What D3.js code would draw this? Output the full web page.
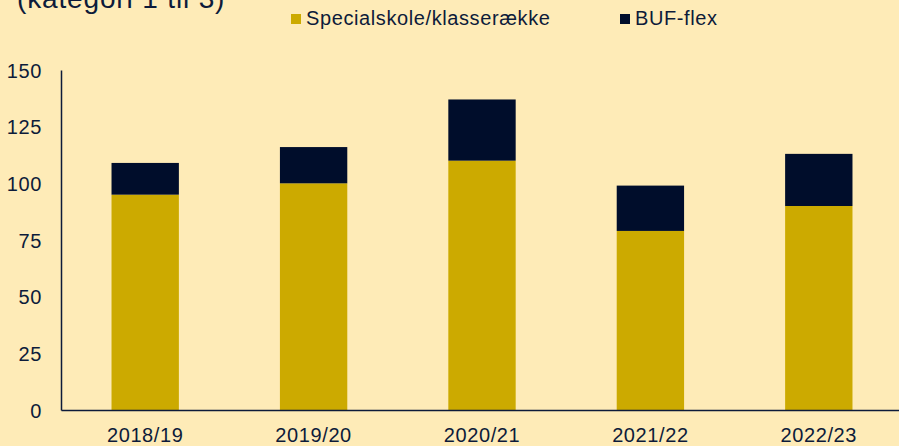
<!DOCTYPE html>
<html>
<head>
<meta charset="utf-8">
<script src="https://d3js.org/d3.v7.min.js"></script>
<style>
  body { margin: 0; background: #feebb7; }
  svg { display: block; font-family: "Liberation Sans", Arial, sans-serif; }
  .axis text { fill: #0d1b3a; font-size: 20px; letter-spacing: 0.6px; }
  .axis path { stroke: #0d1b3a; stroke-width: 1.5; }
</style>
</head>
<body>
<div id="chart"></div>
<script>
  var years = ["2018/19", "2019/20", "2020/21", "2021/22", "2022/23"];
  var special = [95, 100, 110, 79, 90];
  var bufFlex = [14, 16, 27, 20, 23];
  var seriesNames = ["Specialskole/klasserække", "BUF-flex"];
  var yTicks = [0, 25, 50, 75, 100, 125, 150];

  var width = 899, height = 446,
    margin = { top: 70, left: 61, bottom: 36, right: -4 },
    colors = ["#ccaa00", "#000d2b"];

  var svg = d3.select("#chart").append("svg")
    .attr("width", width).attr("height", height);

  svg.append("rect").attr("width", width).attr("height", height).attr("fill", "#feebb7");

  var x = d3.scaleBand().domain(years)
    .range([margin.left, width - margin.right])
    .paddingInner(0.6).paddingOuter(0.3);
  var y = d3.scaleLinear().domain([0, 150])
    .range([height - margin.bottom, margin.top]);

  var rows = years.map(function (yr, i) {
    return { year: yr, special: special[i], buf: bufFlex[i] };
  });
  var stacked = d3.stack().keys(["special", "buf"])(rows);

  svg.selectAll("g.series")
    .data(stacked)
    .enter().append("g")
    .attr("class", "series")
    .attr("fill", function (d, i) { return colors[i]; })
    .selectAll("rect")
    .data(function (d) { return d; })
    .enter().append("rect")
    .attr("x", function (d) { return x(d.data.year); })
    .attr("width", x.bandwidth())
    .attr("y", function (d) { return y(d[1]); })
    .attr("height", function (d) { return y(d[0]) - y(d[1]); });

  svg.append("g").attr("class", "axis")
    .attr("transform", "translate(" + margin.left + ",0)")
    .call(d3.axisLeft(y).tickValues(yTicks).tickSize(0).tickPadding(19))
    .call(function (g) { g.selectAll("text").attr("dy", "0.35em"); });

  svg.append("g").attr("class", "axis")
    .attr("transform", "translate(0," + y(0) + ")")
    .call(d3.axisBottom(x).tickSize(0).tickPadding(18));

  // title (cut off at the top, as in the reference)
  svg.append("text")
    .attr("x", 17).attr("y", 7.5)
    .attr("fill", "#0d1b3a")
    .style("font-size", "28px")
    .style("letter-spacing", "0.85px")
    .text("(kategori 1 til 3)");

  // legend
  var legendX = [291, 620];
  var legend = svg.selectAll("g.legend")
    .data(seriesNames)
    .enter().append("g")
    .attr("class", "legend")
    .attr("transform", function (d, i) { return "translate(" + legendX[i] + ",14)"; });
  legend.append("rect")
    .attr("width", 10).attr("height", 10)
    .attr("fill", function (d, i) { return colors[i]; });
  legend.append("text")
    .attr("x", 15).attr("y", 11)
    .attr("fill", "#0d1b3a")
    .style("font-size", "20px")
    .style("letter-spacing", "0.6px")
    .text(function (d) { return d; });
</script>
</body>
</html>
